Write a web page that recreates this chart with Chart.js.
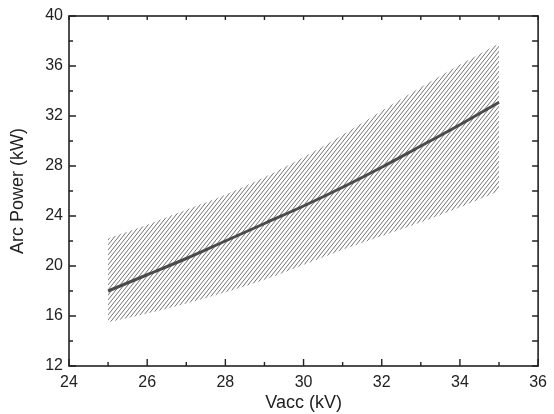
<!DOCTYPE html>
<html>
<head>
<meta charset="utf-8">
<script src="https://cdn.jsdelivr.net/npm/chart.js@4"></script>
<style>
html,body{margin:0;padding:0;background:#fff;}
#wrap{width:554px;height:414px;}
</style>
</head>
<body>
<div id="wrap"><canvas id="c" width="554" height="414"></canvas></div>
<script>
const vacc = [25, 26, 27, 28, 29, 30, 31, 32, 33, 34, 35];
const powerMean = [18.0, 19.3, 20.6, 22.0, 23.4, 24.8, 26.3, 27.9, 29.6, 31.3, 33.1];
const powerUpper = [22.2, 23.3, 24.5, 25.7, 27.1, 28.7, 30.5, 32.4, 34.3, 36.1, 37.8];
const powerLower = [15.5, 16.2, 17.0, 17.9, 18.9, 20.1, 21.3, 22.4, 23.5, 24.7, 26.0];
const xTicks = [24, 26, 28, 30, 32, 34, 36];
const yTicks = [12, 16, 20, 24, 28, 32, 36, 40];

function hatch() {
  const w = 4, h = 5;
  const c = document.createElement('canvas');
  c.width = w; c.height = h;
  const g = c.getContext('2d');
  g.strokeStyle = 'rgba(80,80,80,0.8)';
  g.lineWidth = 1;
  g.beginPath();
  g.moveTo(0, h); g.lineTo(w, 0);
  g.moveTo(-w, h); g.lineTo(0, 0);
  g.moveTo(w, h); g.lineTo(2 * w, 0);
  g.stroke();
  return g.createPattern(c, 'repeat');
}

const frame = {
  id: 'frame',
  afterDraw(chart) {
    const ctx = chart.ctx, a = chart.chartArea;
    const xs = chart.scales.x, ys = chart.scales.y;
    ctx.save();
    ctx.strokeStyle = '#222';
    ctx.lineWidth = 1.6;
    ctx.strokeRect(a.left, a.top, a.right - a.left, a.bottom - a.top);
    ctx.lineWidth = 1.4;
    ctx.beginPath();
    for (let v = 24; v <= 36; v += 1) {
      const p = xs.getPixelForValue(v);
      const L = (v % 2 === 0) ? 7 : 4;
      ctx.moveTo(p, a.bottom); ctx.lineTo(p, a.bottom - L);
      ctx.moveTo(p, a.top); ctx.lineTo(p, a.top + 4);
    }
    for (let v = 12; v <= 40; v += 2) {
      const p = ys.getPixelForValue(v);
      const L = (v % 4 === 0) ? 7 : 4;
      ctx.moveTo(a.left, p); ctx.lineTo(a.left + L, p);
      ctx.moveTo(a.right, p); ctx.lineTo(a.right - 6, p);
    }
    ctx.stroke();
    ctx.restore();
  }
};

new Chart(document.getElementById('c'), {
  type: 'line',
  data: {
    datasets: [
      {
        label: 'upper',
        data: vacc.map((x, i) => ({x, y: powerUpper[i]})),
        borderWidth: 0,
        borderColor: 'rgba(0,0,0,0)',
        pointRadius: 0,
        fill: '+1',
        backgroundColor: hatch(),
        cubicInterpolationMode: 'monotone'
      },
      {
        label: 'lower',
        data: vacc.map((x, i) => ({x, y: powerLower[i]})),
        borderWidth: 0,
        borderColor: 'rgba(0,0,0,0)',
        pointRadius: 0,
        fill: false,
        cubicInterpolationMode: 'monotone'
      },
      {
        label: 'mean',
        data: vacc.map((x, i) => ({x, y: powerMean[i]})),
        borderWidth: 3,
        borderColor: '#4a4a4a',
        pointRadius: 0,
        fill: false,
        cubicInterpolationMode: 'monotone'
      }
    ]
  },
  options: {
    responsive: false,
    animation: false,
    devicePixelRatio: 1,
    layout: {padding: {left: 7, right: 12, top: 16, bottom: 0}},
    plugins: {legend: {display: false}, tooltip: {enabled: false}},
    scales: {
      x: {
        type: 'linear', min: 24, max: 36,
        afterBuildTicks: s => { s.ticks = xTicks.map(v => ({value: v})); },
        afterFit: s => { s.height = 48; },
        grid: {display: false, drawTicks: false},
        border: {display: false},
        ticks: {color: '#222', font: {family: 'Liberation Sans', size: 16}, padding: 7, maxRotation: 0},
        title: {display: true, text: 'Vacc (kV)', color: '#222', font: {family: 'Liberation Sans', size: 18}, padding: {top: 0, bottom: 0}}
      },
      y: {
        type: 'linear', min: 12, max: 40,
        afterBuildTicks: s => { s.ticks = yTicks.map(v => ({value: v})); },
        afterFit: s => { s.width = 62; },
        grid: {display: false, drawTicks: false},
        border: {display: false},
        ticks: {color: '#222', font: {family: 'Liberation Sans', size: 16}, padding: 6},
        title: {display: true, text: 'Arc Power (kW)', color: '#222', font: {family: 'Liberation Sans', size: 18}, padding: {top: 0, bottom: 4}}
      }
    }
  },
  plugins: [frame]
});
</script>
</body>
</html>
